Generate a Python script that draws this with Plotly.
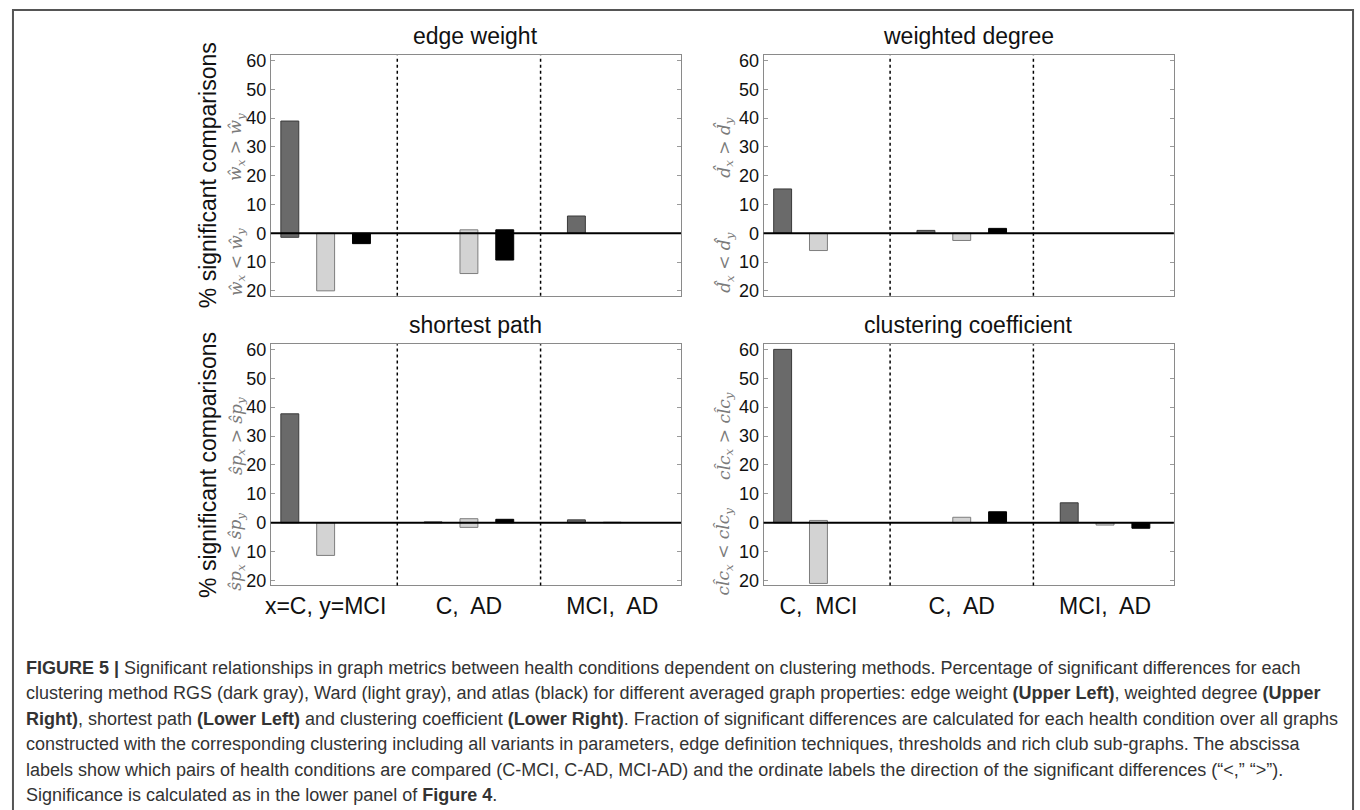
import plotly.graph_objects as go

W, H = 1360, 810

# ---------------- data ----------------
pairs_left = ["x=C, y=MCI", "C,\u00a0 AD", "MCI,\u00a0 AD"]
pairs_right = ["C,\u00a0 MCI", "C,\u00a0 AD", "MCI,\u00a0 AD"]
methods = ["RGS", "Ward", "atlas"]
panel_titles = ["edge weight", "weighted degree", "shortest path", "clustering coefficient"]

# values per method, per pair (C-MCI, C-AD, MCI-AD); "gt" = x>y, "lt" = x<y
edge_gt = {"RGS": [39.0, 0, 6.0], "Ward": [0, 1.2, 0], "atlas": [0, 1.2, 0]}
edge_lt = {"RGS": [1.4, 0, 0], "Ward": [20.0, 14.0, 0], "atlas": [3.6, 9.3, 0]}
deg_gt = {"RGS": [15.4, 1.0, 0], "Ward": [0, 0, 0], "atlas": [0, 1.7, 0]}
deg_lt = {"RGS": [0, 0, 0], "Ward": [6.0, 2.5, 0], "atlas": [0, 0, 0]}
sp_gt = {"RGS": [37.7, 0.3, 1.0], "Ward": [0, 1.4, 0.2], "atlas": [0, 1.2, 0]}
sp_lt = {"RGS": [0, 0, 0], "Ward": [11.3, 1.6, 0], "atlas": [0, 0, 0]}
clc_gt = {"RGS": [60.0, 0, 6.9], "Ward": [0.8, 1.9, 0], "atlas": [0, 3.8, 0]}
clc_lt = {"RGS": [0, 0, 0], "Ward": [21.0, 0, 0.8], "atlas": [0, 0, 1.9]}

ytick_vals = [-20, -10, 0, 10, 20, 30, 40, 50, 60]
ytick_text = ["20", "10", "0", "10", "20", "30", "40", "50", "60"]

ylab_gt = ["<i>ŵ<sub>x</sub></i> &gt; <i>ŵ<sub>y</sub></i>",
           "<i>d\u0302<sub>x</sub></i> &gt; <i>d\u0302<sub>y</sub></i>",
           "<i>s\u0302p<sub>x</sub></i> &gt; <i>s\u0302p<sub>y</sub></i>",
           "<i>cl\u0302c<sub>x</sub></i> &gt; <i>cl\u0302c<sub>y</sub></i>"]
ylab_lt = ["<i>ŵ<sub>x</sub></i> &lt; <i>ŵ<sub>y</sub></i>",
           "<i>d\u0302<sub>x</sub></i> &lt; <i>d\u0302<sub>y</sub></i>",
           "<i>s\u0302p<sub>x</sub></i> &lt; <i>s\u0302p<sub>y</sub></i>",
           "<i>cl\u0302c<sub>x</sub></i> &lt; <i>cl\u0302c<sub>y</sub></i>"]

caption_lines = [
    "<b>FIGURE 5 |</b> Significant relationships in graph metrics between health conditions dependent on clustering methods. Percentage of significant differences for each",
    "clustering method RGS (dark gray), Ward (light gray), and atlas (black) for different averaged graph properties: edge weight <b>(Upper Left)</b>, weighted degree <b>(Upper</b>",
    "<b>Right)</b>, shortest path <b>(Lower Left)</b> and clustering coefficient <b>(Lower Right)</b>. Fraction of significant differences are calculated for each health condition over all graphs",
    "constructed with the corresponding clustering including all variants in parameters, edge definition techniques, thresholds and rich club sub-graphs. The abscissa",
    "labels show which pairs of health conditions are compared (C-MCI, C-AD, MCI-AD) and the ordinate labels the direction of the significant differences (\u201c&lt;,\u201d \u201c&gt;\u201d).",
    "Significance is calculated as in the lower panel of <b>Figure 4</b>.",
]

# ---------------- styles ----------------
fill = {"RGS": "#6a6a6a", "Ward": "#d3d3d3", "atlas": "#000000"}
edge = {"RGS": "#3a3a3a", "Ward": "#7d7d7d", "atlas": "#000000"}
FONT = "Liberation Sans, Arial, sans-serif"

def px(x):
    return x / W

def py(y):
    return 1 - y / H

# panel boxes in pixels: (left, right, top, bottom)
boxes = [(266, 678, 52, 295), (761, 1173, 52, 295),
         (266, 678, 344, 588), (761, 1173, 344, 588)]
yr = [-21.7, 61.8]
xr = [-0.53, 10.92]

data_gt = [edge_gt, deg_gt, sp_gt, clc_gt]
data_lt = [edge_lt, deg_lt, sp_lt, clc_lt]

fig = go.Figure()
annotations = []
shapes = []

for p in range(4):
    ax = "" if p == 0 else str(p + 1)
    xa, ya = "x" + ax, "y" + ax
    for mi, m in enumerate(methods):
        xs = [g * 4 + mi for g in range(3)]
        gt = [v if v else None for v in data_gt[p][m]]
        lt = [-v if v else None for v in data_lt[p][m]]
        for vals in (gt, lt):
            fig.add_trace(go.Bar(x=xs, y=vals, width=0.5, xaxis=xa, yaxis=ya,
                                 marker=dict(color=fill[m], line=dict(color=edge[m], width=1)),
                                 showlegend=False, hoverinfo="skip"))
    l, r, t, b = boxes[p]
    bottom_row = p >= 2
    labels = pairs_left if p == 2 else pairs_right
    fig.update_layout(**{
        "xaxis" + ax: dict(domain=[px(l), px(r)], range=xr, anchor=ya,
                           showline=True, linecolor="#8a8a8a", linewidth=1, mirror=True,
                           showgrid=False, zeroline=False, ticks="",
                           tickvals=[1, 5, 9] if bottom_row else [],
                           ticktext=labels if bottom_row else [],
                           tickfont=dict(size=23, color="#111", family=FONT)),
        "yaxis" + ax: dict(domain=[py(b), py(t)], range=yr, anchor=xa,
                           showline=True, linecolor="#8a8a8a", linewidth=1, mirror="ticks",
                           ticks="inside", ticklen=4, tickcolor="#9a9a9a",
                           showgrid=False, zeroline=False,
                           tickvals=ytick_vals, ticktext=ytick_text,
                           tickfont=dict(size=18, color="#111", family=FONT)),
    })
    # zero line above bars
    shapes.append(dict(type="line", xref=xa + " domain", yref=ya, x0=0, x1=1, y0=0, y1=0,
                       line=dict(color="#000", width=2), layer="above"))
    # dotted dividers
    for xv in (3, 7):
        shapes.append(dict(type="line", xref=xa, yref=ya + " domain", x0=xv, x1=xv, y0=0, y1=1,
                           line=dict(color="#000", width=1.5, dash="dot"), layer="above"))
    # panel title
    annotations.append(dict(text=panel_titles[p], x=px((l + r) / 2), y=py(t - 4),
                            xref="paper", yref="paper", xanchor="center", yanchor="bottom",
                            showarrow=False, font=dict(size=23, color="#111", family=FONT)))
    # direction labels
    lx = 232 if p % 2 == 0 else 722
    annotations.append(dict(text=ylab_gt[p], x=px(lx), y=30, xref="paper", yref=ya,
                            textangle=-90, showarrow=False, xanchor="center", yanchor="middle",
                            font=dict(size=17, color="#7a7a7a", family="DejaVu Serif, serif")))
    annotations.append(dict(text=ylab_lt[p], x=px(lx), y=-10, xref="paper", yref=ya,
                            textangle=-90, showarrow=False, xanchor="center", yanchor="middle",
                            font=dict(size=17, color="#7a7a7a", family="DejaVu Serif, serif")))

# y-axis titles
for yc in (173, 466):
    annotations.append(dict(text="% significant comparisons", x=px(203), y=py(yc),
                            xref="paper", yref="paper", textangle=-90, showarrow=False,
                            xanchor="center", yanchor="middle",
                            font=dict(size=23, color="#111", family=FONT)))

# caption
for i, line in enumerate(caption_lines):
    annotations.append(dict(text=line, x=px(19), y=py(671 + i * 25.8), xref="paper", yref="paper",
                            xanchor="left", yanchor="middle", showarrow=False, align="left",
                            borderpad=0,
                            font=dict(size=18, color="#333", family=FONT)))

# outer frame
shapes.append(dict(type="rect", xref="paper", yref="paper", x0=px(7), x1=px(1353),
                   y0=-0.05, y1=py(6), line=dict(color="#555", width=2), layer="below"))

fig.update_layout(width=W, height=H, margin=dict(l=0, r=0, t=0, b=0),
                  paper_bgcolor="white", plot_bgcolor="white", barmode="overlay",
                  annotations=annotations, shapes=shapes, showlegend=False,
                  font=dict(family=FONT))

fig.write_html("out.html")
